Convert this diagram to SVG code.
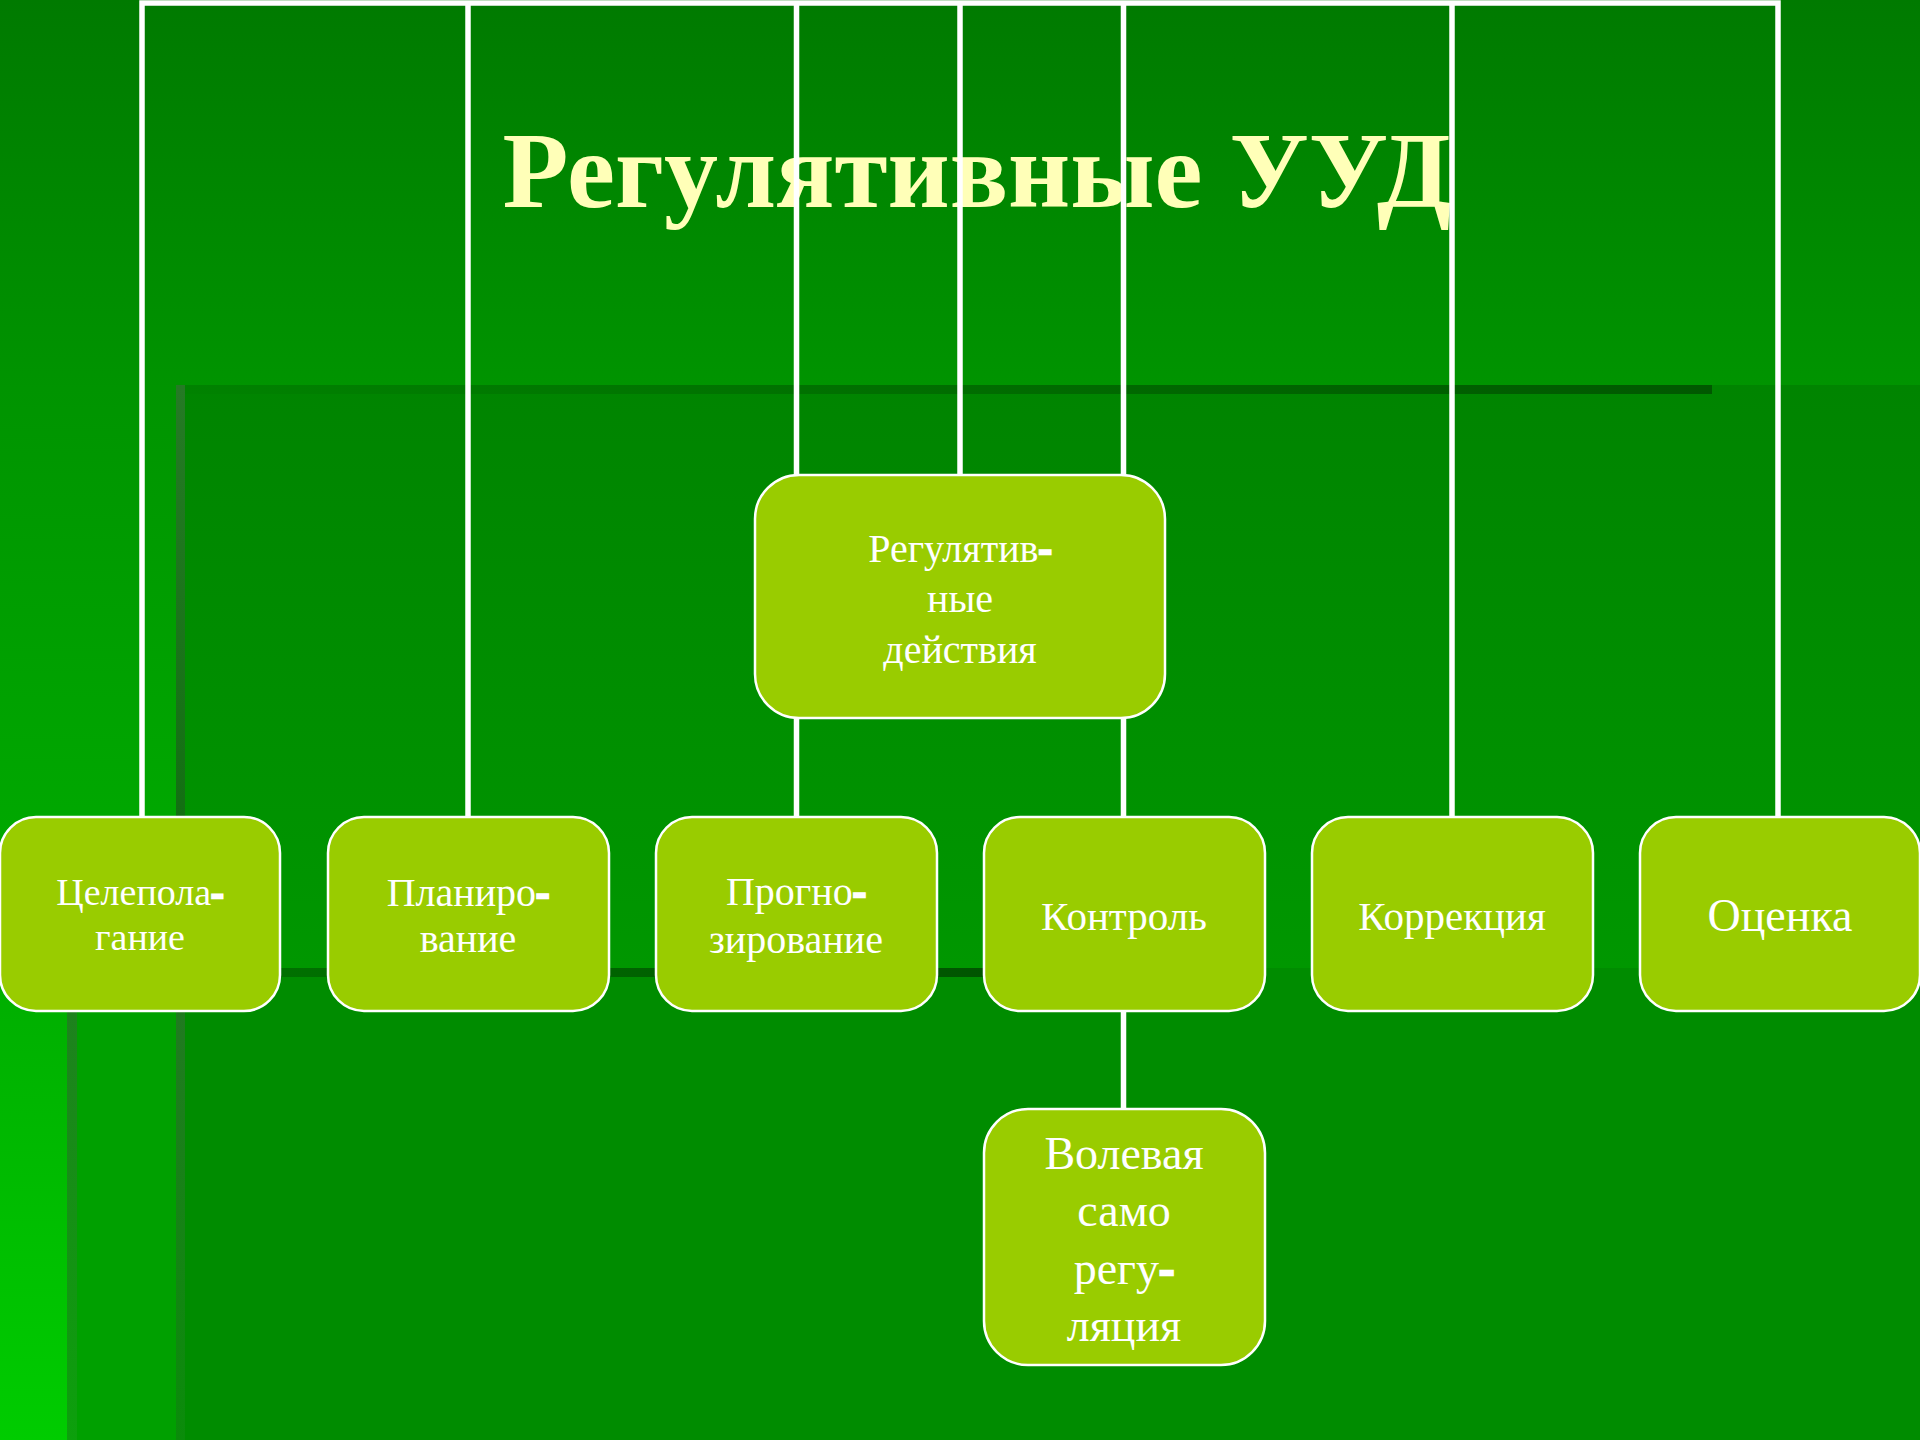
<svg xmlns="http://www.w3.org/2000/svg" width="1920" height="1440" viewBox="0 0 1920 1440">
  <defs>
    <linearGradient id="bg" gradientUnits="userSpaceOnUse" x1="0" y1="0" x2="0" y2="1440">
      <stop offset="0" stop-color="#007a00"/>
      <stop offset="0.27" stop-color="#009400"/>
      <stop offset="0.7" stop-color="#00b000"/>
      <stop offset="1" stop-color="#00cc00"/>
    </linearGradient>
    <linearGradient id="rectB" gradientUnits="userSpaceOnUse" x1="0" y1="385" x2="0" y2="968">
      <stop offset="0" stop-color="#008400"/>
      <stop offset="1" stop-color="#009700"/>
    </linearGradient>
    <linearGradient id="bandTop" gradientUnits="userSpaceOnUse" x1="185" y1="0" x2="1712" y2="0">
      <stop offset="0" stop-color="#008200"/>
      <stop offset="1" stop-color="#005800"/>
    </linearGradient>
    <linearGradient id="bandMid" gradientUnits="userSpaceOnUse" x1="77" y1="0" x2="995" y2="0">
      <stop offset="0" stop-color="#007800"/>
      <stop offset="1" stop-color="#005400"/>
    </linearGradient>
    <linearGradient id="edgeB" gradientUnits="userSpaceOnUse" x1="0" y1="385" x2="0" y2="1440">
      <stop offset="0" stop-color="#257a25"/>
      <stop offset="0.55" stop-color="#0c6c0c"/>
      <stop offset="0.6" stop-color="#207a20"/>
      <stop offset="1" stop-color="#0a8c0a"/>
    </linearGradient>
    <linearGradient id="edgeA" gradientUnits="userSpaceOnUse" x1="0" y1="968" x2="0" y2="1440">
      <stop offset="0" stop-color="#1f7f1f"/>
      <stop offset="1" stop-color="#0ca00c"/>
    </linearGradient>
    <style>
      .conn { stroke: #ffffff; stroke-width: 5.5; fill: none; }
      .box { fill: #99cc00; stroke: #ffffff; stroke-width: 2.5; }
      .lbl { font-family: "Liberation Serif", "Times New Roman", serif; fill: #ffffff; text-anchor: middle; }
      .hy { font-weight: bold; stroke: #ffffff; stroke-width: 2.5; }
      .title { font-family: "Liberation Serif", "Times New Roman", serif; font-weight: bold; fill: #ffffb8; text-anchor: middle; }
    </style>
  </defs>

  <!-- background -->
  <rect x="0" y="0" width="1920" height="1440" fill="url(#bg)"/>
  <rect x="67" y="968" width="1853" height="472" fill="#00a000"/>
  <rect x="67" y="968" width="10" height="472" fill="url(#edgeA)"/>
  <rect x="176" y="385" width="1744" height="583" fill="url(#rectB)"/>
  <rect x="176" y="968" width="1744" height="472" fill="#008c00"/>
  <rect x="176" y="385" width="9" height="1055" fill="url(#edgeB)"/>
  <rect x="185" y="385" width="1527" height="9" fill="url(#bandTop)"/>
  <rect x="77" y="968" width="918" height="9" fill="url(#bandMid)"/>

  <!-- title -->
  <text class="title" x="977" y="207" font-size="108">Регулятивные  УУД</text>

  <!-- connectors -->
  <g id="connectors">
    <polyline class="conn" points="142,817 142,3 1778,3 1778,817"/>
    <line class="conn" x1="468" y1="3" x2="468" y2="817"/>
    <line class="conn" x1="796.5" y1="3" x2="796.5" y2="817"/>
    <line class="conn" x1="960" y1="3" x2="960" y2="475"/>
    <line class="conn" x1="1123.5" y1="3" x2="1123.5" y2="817"/>
    <line class="conn" x1="1452" y1="3" x2="1452" y2="817"/>
    <line class="conn" x1="1123.5" y1="1011" x2="1123.5" y2="1109"/>
  </g>

  <!-- nodes -->
  <g id="node-center">
    <rect class="box" x="755" y="475" width="410" height="243" rx="44" ry="44"/>
    <text class="lbl" font-size="40" x="960" y="562">Регулятив<tspan class="hy">-</tspan></text>
    <text class="lbl" font-size="40" x="960" y="612">ные</text>
    <text class="lbl" font-size="40" x="960" y="663">действия</text>
  </g>
  <g id="node-celepolaganie">
    <rect class="box" x="0" y="817" width="280" height="194" rx="36" ry="36"/>
    <text class="lbl" font-size="38" x="140" y="905">Целепола<tspan class="hy">-</tspan></text>
    <text class="lbl" font-size="38" x="140" y="950">гание</text>
  </g>
  <g id="node-planirovanie">
    <rect class="box" x="328" y="817" width="281" height="194" rx="36" ry="36"/>
    <text class="lbl" font-size="40" x="468" y="906">Планиро<tspan class="hy">-</tspan></text>
    <text class="lbl" font-size="40" x="468" y="952">вание</text>
  </g>
  <g id="node-prognozirovanie">
    <rect class="box" x="656" y="817" width="281" height="194" rx="36" ry="36"/>
    <text class="lbl" font-size="40" x="796" y="905">Прогно<tspan class="hy">-</tspan></text>
    <text class="lbl" font-size="40" x="796" y="953">зирование</text>
  </g>
  <g id="node-kontrol">
    <rect class="box" x="984" y="817" width="281" height="194" rx="36" ry="36"/>
    <text class="lbl" font-size="41" x="1124" y="930">Контроль</text>
  </g>
  <g id="node-korrekciya">
    <rect class="box" x="1312" y="817" width="281" height="194" rx="36" ry="36"/>
    <text class="lbl" font-size="41" x="1452" y="930">Коррекция</text>
  </g>
  <g id="node-ocenka">
    <rect class="box" x="1640" y="817" width="280" height="194" rx="36" ry="36"/>
    <text class="lbl" font-size="46" x="1780" y="931">Оценка</text>
  </g>
  <g id="node-volevaya">
    <rect class="box" x="984" y="1109" width="281" height="256" rx="44" ry="44"/>
    <text class="lbl" font-size="46" x="1124" y="1169">Волевая</text>
    <text class="lbl" font-size="46" x="1124" y="1226">само</text>
    <text class="lbl" font-size="46" x="1124" y="1284">регу<tspan class="hy">-</tspan></text>
    <text class="lbl" font-size="46" x="1124" y="1341">ляция</text>
  </g>
</svg>
